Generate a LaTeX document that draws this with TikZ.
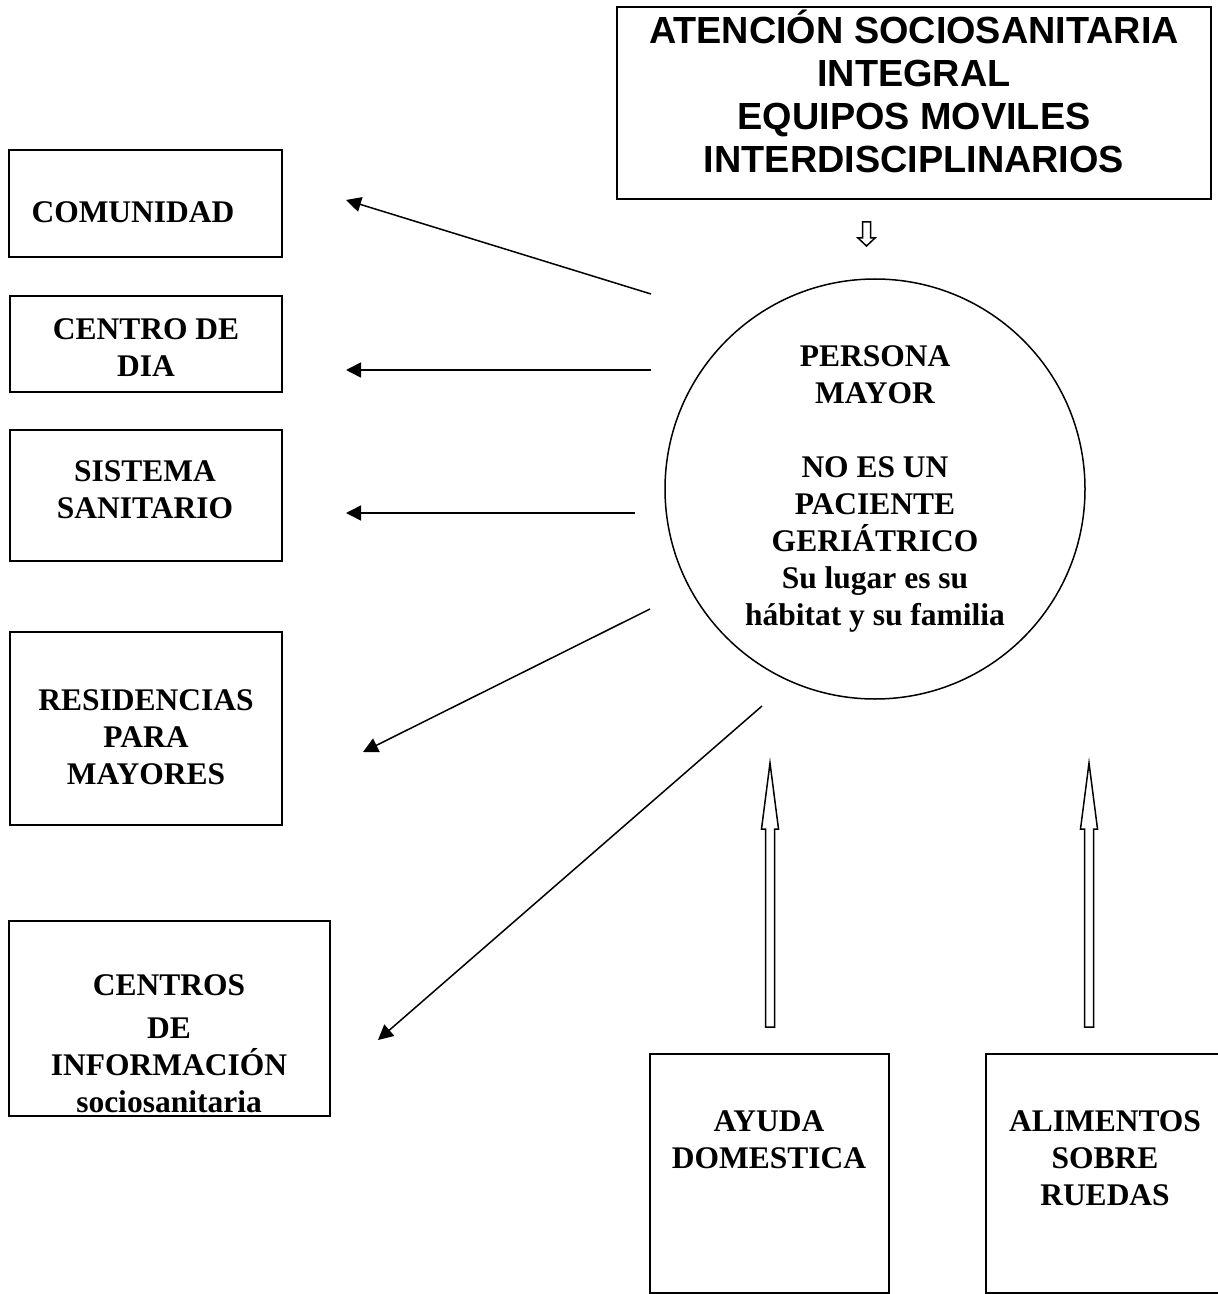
\documentclass[tikz,border=0pt]{standalone}
\usepackage{fontspec}
\setmainfont{Liberation Serif}
\newfontfamily\arialfont{Liberation Sans}
\usetikzlibrary{arrows.meta}

\tikzset{
  box/.style={line width=1pt},
  lbl/.style={font=\bfseries\fontsize{15.75pt}{18.5pt}\selectfont, align=center, inner sep=0pt},
  ray/.style={line width=0.75pt, -{Triangle[length=7.5pt,width=7.5pt]}},
  hollow/.style={line width=0.75pt, fill=white, line join=miter}
}

\begin{document}
\begin{tikzpicture}[x=0.5pt, y=-0.5pt]
  \useasboundingbox (0,0) rectangle (1218,1294);

  % heading box
  \draw[box] (617,7) rectangle (1211,199);
  \node[lbl, font=\arialfont\bfseries\fontsize{18.9pt}{21.5pt}\selectfont] (atencion) at (914,91)
    {ATENCIÓN SOCIOSANITARIA\\INTEGRAL\\EQUIPOS MOVILES\\INTERDISCIPLINARIOS};
  \coordinate (bajaTail) at (866.5,222);
  \draw[hollow, shift={(bajaTail)}] (-4,0) -- (-4,16) -- (-8.5,16) -- (0,24) -- (8.5,16) -- (4,16) -- (4,0) -- cycle;

  % the person in the middle
  \node[lbl, circle, draw, line width=0.75pt, minimum size=210pt] (persona) at (875,489)
    {PERSONA\\MAYOR\\[18.5pt]NO ES UN\\PACIENTE\\GERIÁTRICO\\Su lugar es su\\hábitat y su familia};

  % resources on the left
  \draw[box] (9,150) rectangle (282,257);
  \node[lbl] (comunidad) at (133,212) {COMUNIDAD};
  \draw[box] (10,296) rectangle (282,392);
  \node[lbl] (centroDia) at (146,348) {CENTRO DE\\DIA};
  \draw[box] (10,430) rectangle (282,561);
  \node[lbl] (sistema) at (145,489.5) {SISTEMA\\SANITARIO};
  \draw[box] (10,632) rectangle (282,825);
  \node[lbl] (residencias) at (146,737) {RESIDENCIAS\\PARA\\MAYORES};
  \draw[box] (9,921) rectangle (330,1116);
  \node[lbl] (centros) at (169,1044) {CENTROS\\[3pt]DE\\INFORMACIÓN\\sociosanitaria};

  % home services below
  \draw[box] (650,1054) rectangle (889,1293);
  \node[lbl] (ayuda) at (769,1140) {AYUDA\\DOMESTICA};
  \draw[box] (1218,1054) -- (986,1054) -- (986,1293) -- (1218,1293);
  \node[lbl] (alimentos) at (1105,1158) {ALIMENTOS\\SOBRE\\RUEDAS};

  % arrows out of the circle
  \coordinate (comA) at (651,294);   \coordinate (comB) at (346,200);
  \coordinate (diaA) at (651,370);   \coordinate (diaB) at (346,370);
  \coordinate (sisA) at (635,513);   \coordinate (sisB) at (346,513);
  \coordinate (resA) at (650,609);   \coordinate (resB) at (363,752);
  \coordinate (cenA) at (762,706);   \coordinate (cenB) at (378,1040);
  \foreach \n in {com,dia,sis,res,cen}{
    \draw[ray] (\n A) -- (\n B);
  }

  % hollow arrows up from the services
  \coordinate (ayudaTip) at (770,763);
  \coordinate (alimTip) at (1089,763);
  \foreach \t in {ayudaTip,alimTip}{
    \draw[hollow, shift={(\t)}] (-4.5,264) -- (-4.5,66) -- (-8.5,66) -- (0,0) -- (8.5,66) -- (4.5,66) -- (4.5,264) -- cycle;
  }

\end{tikzpicture}
\end{document}
